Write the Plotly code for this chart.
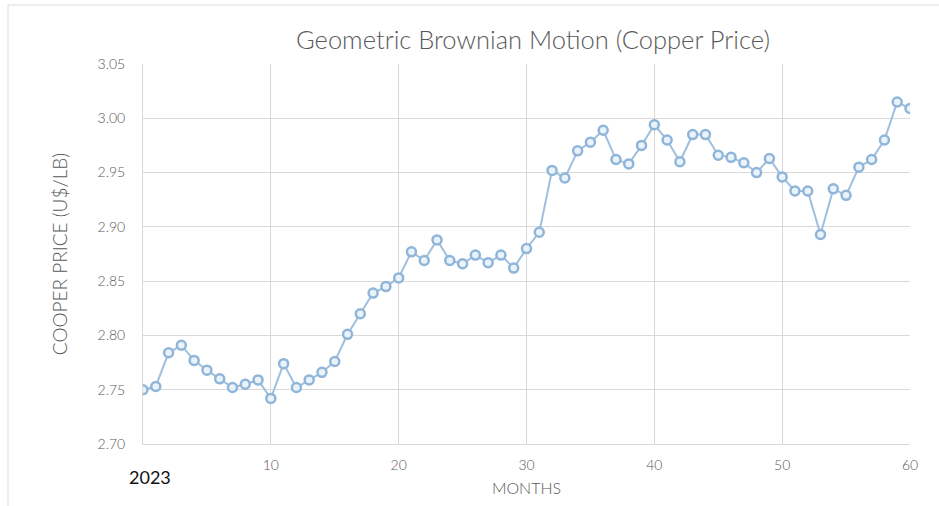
import plotly.graph_objects as go

# Simulated monthly copper price path (US$/lb)
months = list(range(0, 61))
price = [
    2.750, 2.753, 2.784, 2.791, 2.777, 2.768, 2.760, 2.752, 2.755, 2.759,
    2.742, 2.774, 2.752, 2.759, 2.766, 2.776, 2.801, 2.820, 2.839, 2.845,
    2.853, 2.877, 2.869, 2.888, 2.869, 2.866, 2.874, 2.867, 2.874, 2.862,
    2.880, 2.895, 2.952, 2.945, 2.970, 2.978, 2.989, 2.962, 2.958, 2.975,
    2.994, 2.980, 2.960, 2.985, 2.985, 2.966, 2.964, 2.959, 2.950, 2.963,
    2.946, 2.933, 2.933, 2.893, 2.935, 2.929, 2.955, 2.962, 2.980, 3.015,
    3.009,
]
x_ticks = [10, 20, 30, 40, 50, 60]
y_ticks = [2.70, 2.75, 2.80, 2.85, 2.90, 2.95, 3.00, 3.05]

FONT = "Lato"
GRAY = "#595959"
GRID = "#d9d9d9"

fig = go.Figure()
fig.add_trace(go.Scatter(
    x=months, y=price, mode="lines+markers",
    line=dict(color="#9fbfdc", width=2),
    marker=dict(symbol="circle", size=9, color="#eaf2fa",
                line=dict(color="#8fb5d9", width=2.5)),
    showlegend=False,
))

W, H = 939, 506
L, R, T, B = 143, 29, 64, 62
pw, ph = W - L - R, H - T - B

fig.update_layout(
    width=W, height=H,
    margin=dict(l=L, r=R, t=T, b=B),
    paper_bgcolor="white", plot_bgcolor="white",
    font=dict(family=FONT, color=GRAY, weight=300),
    title=dict(text="Geometric Brownian Motion (Copper Price)",
               font=dict(family=FONT, size=25.5, color=GRAY, weight=300),
               x=533 / W, xanchor="center", y=1 - 40 / H, yanchor="middle"),
    xaxis=dict(range=[0, 60], tickvals=x_ticks, showgrid=True, gridcolor=GRID,
               gridwidth=1, zeroline=False, showline=True, linecolor=GRID,
               mirror=False, ticks="", ticklabelstandoff=8,
               tickfont=dict(size=14, color=GRAY, weight=300),
               title=dict(text="MONTHS", font=dict(size=16, color=GRAY, weight=300),
                          standoff=11)),
    yaxis=dict(range=[2.70, 3.05], tickvals=y_ticks, tickformat=".2f",
               showgrid=True, gridcolor=GRID, gridwidth=1, zeroline=False,
               showline=True, linecolor=GRID, ticks="",
               tickfont=dict(size=14, color=GRAY, weight=300), ticklabelstandoff=14,
               title=dict(text="COOPER PRICE (U$/LB)",
                          font=dict(size=19, color=GRAY, weight=300), standoff=24)),
)

# Outer frame lines (left and top)
fx = (8 - L) / pw
fy = 1 + (T - 5) / ph
fb = -B / ph
fr = 1 + R / pw
fig.add_shape(type="line", xref="paper", yref="paper", x0=fx, x1=fx, y0=fb, y1=fy,
              line=dict(color="#dcdcdc", width=1))
fig.add_shape(type="line", xref="paper", yref="paper", x0=fx, x1=fr, y0=fy, y1=fy,
              line=dict(color="#dcdcdc", width=1))

fig.add_annotation(text="2023", xref="paper", yref="paper",
                   x=(150 - L) / pw, y=-(477 - (T + ph)) / ph,
                   xanchor="center", yanchor="middle", showarrow=False,
                   font=dict(family=FONT, size=18, color="#111111", weight=400))

fig.write_html("out.html")
